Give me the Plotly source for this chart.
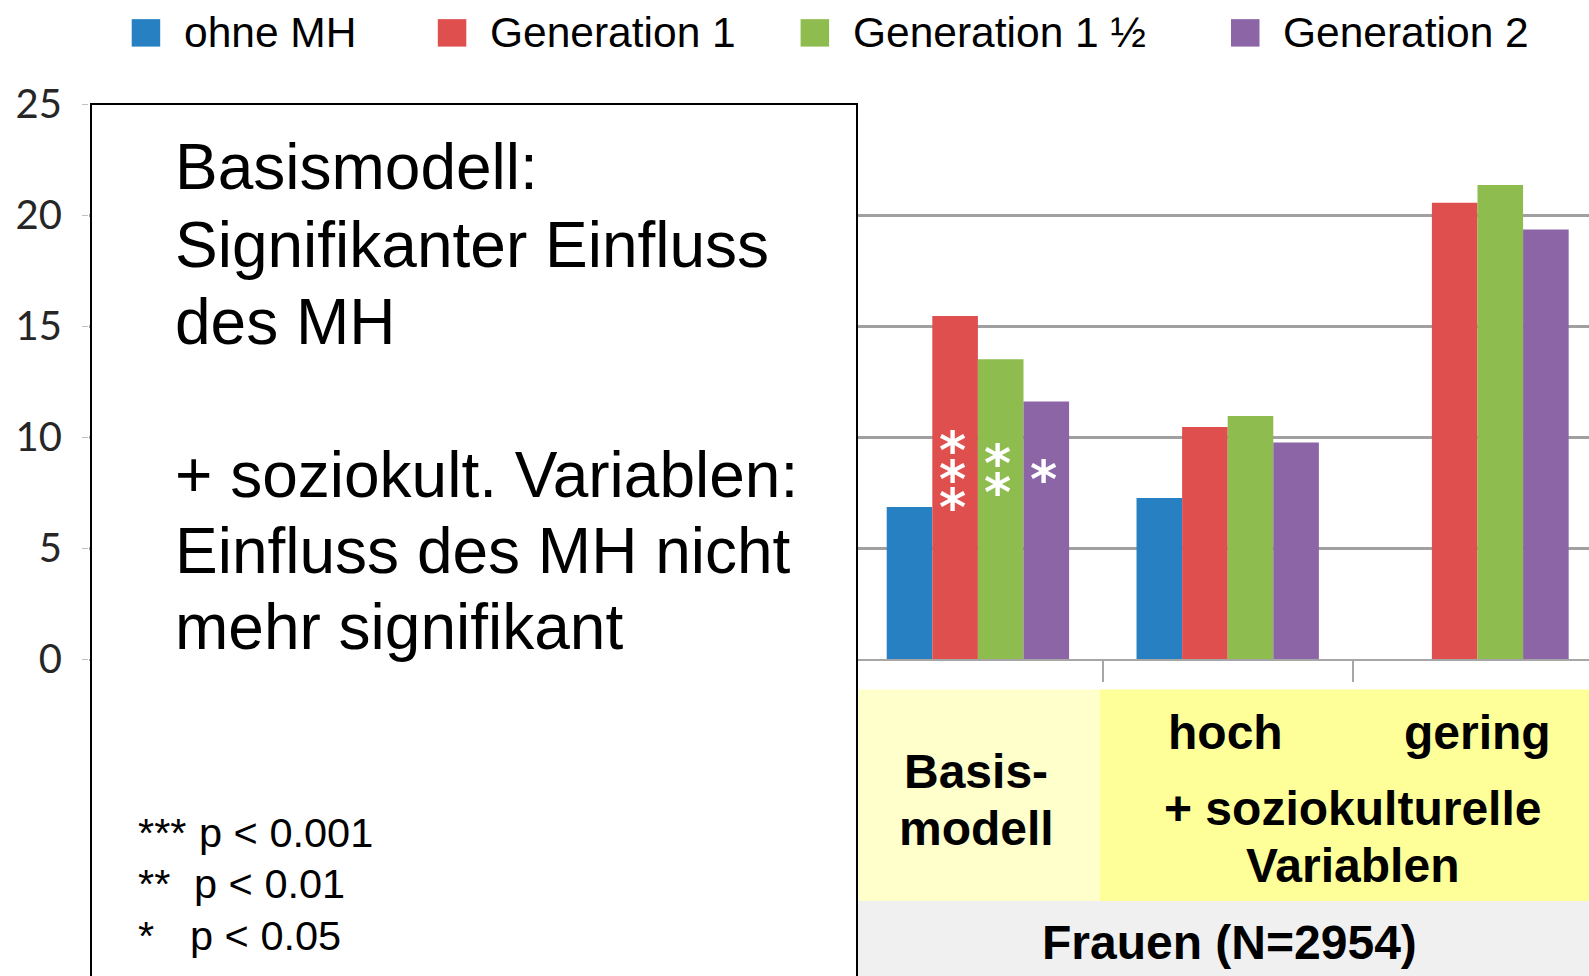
import plotly.graph_objects as go

# ---------------- data ----------------
categories = ["Basismodell", "hoch", "gering"]
series_names = ["ohne MH", "Generation 1", "Generation 1 ½", "Generation 2"]
ohne_mh = [6.85, 7.25, None]
generation_1 = [15.45, 10.45, 20.55]
generation_1_5 = [13.5, 10.95, 21.35]
generation_2 = [11.6, 9.75, 19.35]
series_values = [ohne_mh, generation_1, generation_1_5, generation_2]
colors = ["#2680C2", "#DF4F4E", "#8EBC4F", "#8B65A6"]
y_tick_values = [0, 5, 10, 15, 20, 25]
y_tick_labels = ["0", "5", "10", "15", "20", "25"]
# significance stars for the Basismodell group (per series)
sig_stars = [0, 3, 2, 1]
star_center = [None, 8.75, 8.82, 8.75]

box_lines = ["Basismodell:", "Signifikanter Einfluss", "des MH", "",
             "+ soziokult. Variablen:", "Einfluss des MH nicht", "mehr signifikant"]
footnote_stars = ["***", "**", "*"]
footnote_text = ["p < 0.001", "p < 0.01", "p < 0.05"]

# ---------------- geometry ----------------
FIG_W, FIG_H = 1589, 976
L, T = 89, 103.5
PLOT_W = FIG_W - L
Y0_PX = 659.5
PLOT_H = Y0_PX - T
B = FIG_H - Y0_PX
PX_PER_CAT = 249.8
X_LEFT = -(977.9 - L) / PX_PER_CAT
X_RIGHT = X_LEFT + PLOT_W / PX_PER_CAT
BARGAP = 0.27
NS = len(series_names)
BAR_W = (1 - BARGAP) / NS


def xp(px):
    return (px - L) / PLOT_W


def yp(py):
    return (Y0_PX - py) / PLOT_H


fig = go.Figure()
for name, vals, col in zip(series_names, series_values, colors):
    fig.add_trace(go.Bar(x=categories, y=vals, name=name, marker_color=col,
                         marker_line_width=0, showlegend=False))

shapes = []
annotations = []

# bottom band boxes
shapes.append(dict(type="rect", xref="paper", yref="paper", x0=xp(857), x1=xp(1099.5),
                   y0=yp(690), y1=yp(902), fillcolor="#FFFFCC", line_width=0, layer="above"))
shapes.append(dict(type="rect", xref="paper", yref="paper", x0=xp(1099.5), x1=xp(1600),
                   y0=yp(690), y1=yp(902), fillcolor="#FFFF99", line_width=0, layer="above"))
shapes.append(dict(type="rect", xref="paper", yref="paper", x0=xp(857), x1=xp(1600),
                   y0=yp(902), y1=yp(990), fillcolor="#F0F0F0", line_width=0, layer="above"))
# white text box
shapes.append(dict(type="rect", xref="paper", yref="paper", x0=xp(91), x1=xp(857),
                   y0=yp(103.5), y1=yp(990), fillcolor="white",
                   line=dict(color="black", width=2), layer="above"))

# legend (manual)
leg_sq_x = [131.7, 437.8, 800.6, 1231]
for name, col, x0 in zip(series_names, colors, leg_sq_x):
    shapes.append(dict(type="rect", xref="paper", yref="paper", x0=xp(x0), x1=xp(x0 + 28.5),
                       y0=yp(18.5), y1=yp(46), fillcolor=col, line_width=0))
    annotations.append(dict(text=name, xref="paper", yref="paper", x=xp(x0 + 50), y=yp(32),
                            xanchor="left", yanchor="middle", showarrow=False,
                            font=dict(family="Liberation Sans", size=42.5, color="black")))

# box text
box_y = [166.5, 244.5, 321.6, None, 475.6, 551.6, 627.6]
for line, y in zip(box_lines, box_y):
    if not line:
        continue
    annotations.append(dict(text=line, xref="paper", yref="paper", x=xp(173), y=yp(y),
                            xanchor="left", yanchor="middle", showarrow=False,
                            font=dict(family="Liberation Sans", size=64, color="black")))

# footnotes
fn_y = [833, 884.5, 936]
fn_px = [196.5, 191.5, 187.5]
for s, t, y, x in zip(footnote_stars, footnote_text, fn_y, fn_px):
    annotations.append(dict(text=s, xref="paper", yref="paper", x=xp(135.5), y=yp(y),
                            xanchor="left", yanchor="middle", showarrow=False,
                            font=dict(family="Liberation Sans", size=41.5, color="black")))
    annotations.append(dict(text=t, xref="paper", yref="paper", x=xp(x), y=yp(y),
                            xanchor="left", yanchor="middle", showarrow=False,
                            font=dict(family="Liberation Sans", size=41.5, color="black")))

# bottom band labels
bold = dict(family="Liberation Sans", size=48, color="black")
band_labels = [("<b>Basis-</b>", 976, 772), ("<b>modell</b>", 976, 829),
               ("<b>hoch</b>", 1225, 733), ("<b>gering</b>", 1477.5, 733),
               ("<b>+ soziokulturelle</b>", 1352, 809), ("<b>Variablen</b>", 1352, 866),
               ("<b>Frauen (N=2954)</b>", 1229, 944)]
for t, x, y in band_labels:
    annotations.append(dict(text=t, xref="paper", yref="paper", x=xp(x), y=yp(y),
                            xanchor="center", yanchor="middle", showarrow=False, font=bold))

# significance stars inside the Basismodell bars (one stacked text per bar)
star_span = "<span style='font-size:52px'><b>*</b></span>"
for i, (n, yc) in enumerate(zip(sig_stars, star_center)):
    if n == 0:
        continue
    xc = 0 - (1 - BARGAP) / 2 + BAR_W * (i + 0.5)
    annotations.append(dict(text="<br>".join([star_span] * n), xref="x", yref="y",
                            x=xc, y=yc, xanchor="center", yanchor="middle",
                            xshift=-3, yshift=-14, showarrow=False,
                            font=dict(family="DejaVu Sans", size=22, color="white")))

fig.update_layout(
    width=FIG_W, height=FIG_H,
    margin=dict(l=L, r=0, t=T, b=B, pad=0),
    paper_bgcolor="white", plot_bgcolor="white",
    barmode="group", bargap=BARGAP, bargroupgap=0,
    shapes=shapes, annotations=annotations,
    xaxis=dict(type="category", range=[X_LEFT, X_RIGHT], showticklabels=False,
               showgrid=False, zeroline=False, showline=True, linecolor="#A6A6A6",
               linewidth=2, ticks="outside", tickson="boundaries", ticklen=21,
               tickcolor="#A6A6A6", tickwidth=2),
    yaxis=dict(range=[0, 25], tickvals=y_tick_values, ticktext=y_tick_labels,
               showgrid=True, gridcolor="#A0A0A0", gridwidth=2.5, zeroline=False,
               showline=False, ticks="outside", ticklen=6, tickcolor="#BFBFBF",
               ticklabelstandoff=12,
               tickfont=dict(family="Lato", size=40, color="#262626")),
)

fig.write_html("out.html", config={"displayModeBar": False},
               post_script="document.body.style.margin='0';document.body.style.overflow='hidden';")
